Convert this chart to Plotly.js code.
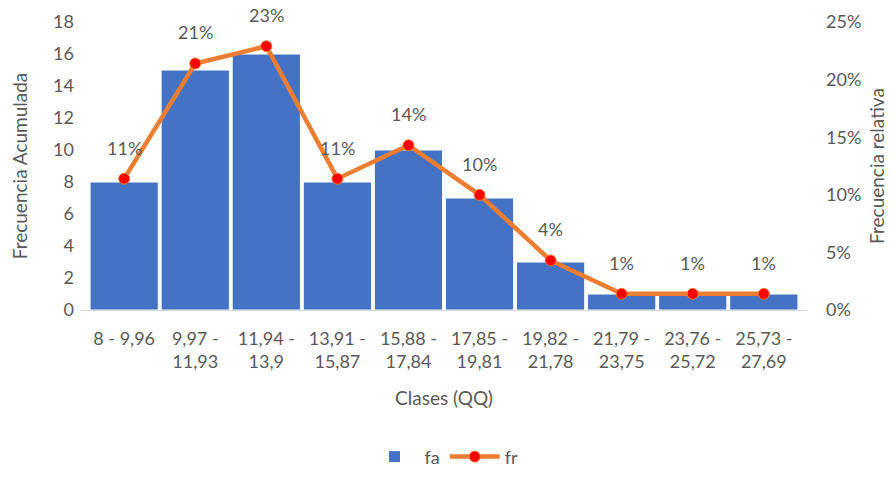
<!DOCTYPE html>
<html><head><meta charset="utf-8">
<script src="https://cdn.plot.ly/plotly-3.0.1.min.js"></script>
<style>html,body{margin:0;padding:0;background:#fff}#chart{width:896px;height:488px}</style>
</head><body><div id="chart"></div>
<script>
const categories = ["8 - 9,96","9,97 -<br>11,93","11,94 -<br>13,9","13,91 -<br>15,87","15,88 -<br>17,84","17,85 -<br>19,81","19,82 -<br>21,78","21,79 -<br>23,75","23,76 -<br>25,72","25,73 -<br>27,69"];
const fa = [8, 15, 16, 8, 10, 7, 3, 1, 1, 1];
const fr = [0.114, 0.214, 0.229, 0.114, 0.143, 0.100, 0.043, 0.014, 0.014, 0.014];
const frLabels = ["11%","21%","23%","11%","14%","10%","4%","1%","1%","1%"];

const fontFam = "Lato, 'Open Sans', sans-serif";
const grey = "#595959";

const traces = [
  {type:'bar', x:categories, y:fa, name:'fa', marker:{color:'#4472C4', line:{color:'#ffffff', width:1}}, hoverinfo:'none'},
  {type:'scatter', mode:'lines+markers', x:categories, y:fr, yaxis:'y2', name:'fr',
   line:{color:'#ED7D31', width:4.5}, marker:{color:'#FF0000', size:11, line:{color:'#ED7D31', width:1}}, hoverinfo:'none'}
];

const annotations = categories.map((c,i)=>({x:c, y:fr[i], xref:'x', yref:'y2', text:frLabels[i], showarrow:false, yshift:31, font:{family:fontFam, size:18, color:grey}}));

const layout = {
  width:896, height:488,
  margin:{l:81, r:89, t:22, b:162},
  paper_bgcolor:'#fff', plot_bgcolor:'#fff',
  font:{family:fontFam, size:18, color:grey},
  bargap:0.04,
  showlegend:true,
  legend:{orientation:'h', x:0.5, xanchor:'center', y:-0.51, yanchor:'middle', font:{size:18, color:grey}, itemwidth:50},
  xaxis:{type:'category', showline:true, linecolor:'#d9d9d9', linewidth:1, ticks:'', tickfont:{size:18, color:grey},
    ticklabelstandoff:12,
    title:{text:'Clases (QQ)', font:{size:19, color:grey}, standoff:20}, automargin:false},
  yaxis:{range:[0,18], dtick:2, showgrid:false, zeroline:false, ticks:'', tickfont:{size:18, color:grey},
    ticklabelstandoff:6,
    title:{text:'Frecuencia Acumulada', font:{size:19, color:grey}, standoff:20}, automargin:false},
  yaxis2:{overlaying:'y', side:'right', range:[0,0.25], dtick:0.05, tickformat:'.0%', showgrid:false, zeroline:false, ticks:'',
    tickfont:{size:18, color:grey}, ticklabelstandoff:18,
    title:{text:'Frecuencia relativa', font:{size:19, color:grey}, standoff:10}, automargin:false},
  annotations:annotations
};
Plotly.newPlot('chart', traces, layout, {displayModeBar:false, staticPlot:true});
</script></body></html>
